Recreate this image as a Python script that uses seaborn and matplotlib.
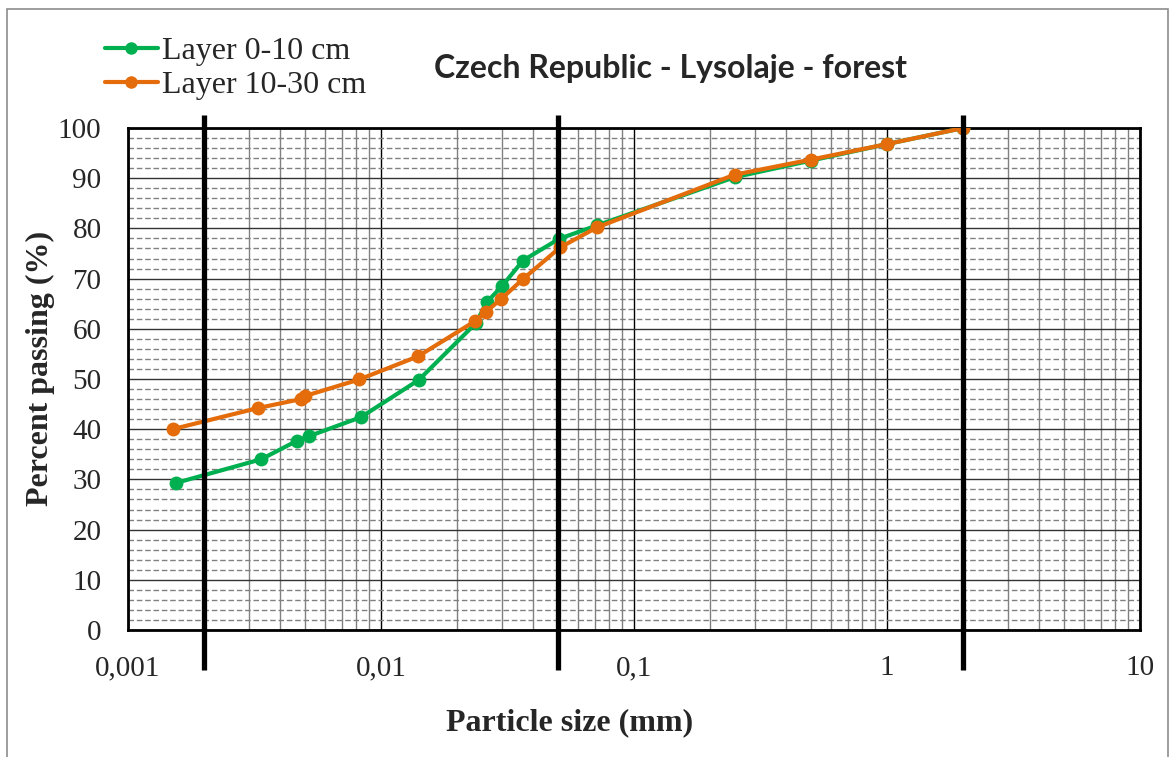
import numpy as np
import pandas as pd
import matplotlib
matplotlib.use("Agg")
import matplotlib.pyplot as plt
import seaborn as sns
from matplotlib.ticker import FixedLocator, FuncFormatter, MultipleLocator

# particle size (mm) and percent passing
size_top = [0.00155, 0.00336, 0.00466, 0.00519, 0.00834, 0.0141, 0.0237, 0.0262,
            0.0301, 0.0364, 0.0505, 0.0714, 0.25, 0.5, 1.0, 2.0]
pass_top = [29.3, 34.0, 37.7, 38.6, 42.4, 49.8, 61.1, 65.3,
            68.5, 73.6, 77.9, 80.6, 90.2, 93.5, 96.8, 100.0]

size_sub = [0.0015, 0.00326, 0.00483, 0.0050, 0.0082, 0.014, 0.0235, 0.026,
            0.0298, 0.0364, 0.051, 0.0714, 0.25, 0.5, 1.0, 2.0]
pass_sub = [40.0, 44.2, 46.0, 46.6, 49.9, 54.5, 61.5, 63.4,
            65.9, 69.9, 76.2, 80.2, 90.7, 93.7, 96.8, 100.0]

layer_names = ["Layer 0-10 cm", "Layer 10-30 cm"]
layer_colors = ["#00B050", "#E46C0A"]

# clay/silt, silt/sand, sand/gravel boundaries
fraction_limits = [0.002, 0.05, 2.0]

x_ticks = [0.001, 0.01, 0.1, 1, 10]
y_ticks = list(range(0, 101, 10))

df = pd.concat([
    pd.DataFrame({"size": size_top, "passing": pass_top, "layer": layer_names[0]}),
    pd.DataFrame({"size": size_sub, "passing": pass_sub, "layer": layer_names[1]}),
], ignore_index=True)

sns.set_style("white")
plt.rcParams["font.family"] = ["Liberation Serif", "DejaVu Serif"]

fig = plt.figure(figsize=(11.76, 7.57), dpi=100)
ax = fig.add_axes([0.1088, 0.1678, 0.8606, 0.6631])

ax.set_xscale("log")
ax.set_xlim(0.001, 10)
ax.set_ylim(0, 100)

# grid like log paper
ax.xaxis.set_major_locator(FixedLocator(x_ticks))
minor_x = [m * d for d in x_ticks[:-1] for m in range(2, 10)]
ax.xaxis.set_minor_locator(FixedLocator(minor_x))
ax.yaxis.set_major_locator(FixedLocator(y_ticks))
ax.yaxis.set_minor_locator(MultipleLocator(2))
ax.grid(which="major", axis="x", color="black", lw=1.0)
ax.grid(which="minor", axis="x", color="#808080", lw=1.0)
ax.grid(which="major", axis="y", color="#333333", lw=1.0)
ax.grid(which="minor", axis="y", color="#808080", lw=1.0, ls=(0, (4, 2)))
ax.set_axisbelow(True)

sns.lineplot(data=df, x="size", y="passing", hue="layer", palette=layer_colors,
             sort=False, marker="o", markersize=10, markeredgewidth=0,
             lw=3, ax=ax, zorder=5)

ax.vlines(fraction_limits, -8, 102.6, colors="black", lw=3.8, clip_on=False, zorder=6)

for s in ax.spines.values():
    s.set_color("black")
    s.set_linewidth(2)

ax.tick_params(axis="both", which="major", direction="out", length=7, width=1,
               color="#7f7f7f", labelsize=21)
ax.tick_params(axis="both", which="minor", length=0)
ax.tick_params(axis="x", pad=11)
ax.tick_params(axis="y", pad=12)
ax.xaxis.set_major_formatter(FuncFormatter(lambda v, p: f"{v:g}".replace(".", ",")))

ax.set_xlabel("Particle size (mm)", fontsize=23, fontweight="bold")
ax.set_ylabel("Percent passing (%)", fontsize=23, fontweight="bold")
ax.xaxis.label.set_va("center")
ax.xaxis.set_label_coords(0.436, -0.185)
ax.yaxis.label.set_va("center")
ax.yaxis.set_label_coords(-0.086, 0.522)

fig.text(0.570, 0.909, "Czech Republic - Lysolaje - forest", ha="center", va="center",
         fontsize=23, fontweight="bold", family=["Lato", "DejaVu Sans"])

leg = ax.legend(loc="upper left", bbox_to_anchor=(105 / 1176, 0.952),
                bbox_transform=fig.transFigure, frameon=False, fontsize=23,
                handlelength=1.65, handletextpad=0.15, labelspacing=0.17,
                borderpad=0, borderaxespad=0)
for h in leg.get_lines():
    h.set_linewidth(3)
    h.set_markersize(9)

# outer chart frame
fig.patches.append(plt.Rectangle((0.006, -0.05), 0.987, 1.038, transform=fig.transFigure,
                                 fill=False, edgecolor="#8c8c8c", lw=1.2))

fig.savefig("out.png", dpi=100)
